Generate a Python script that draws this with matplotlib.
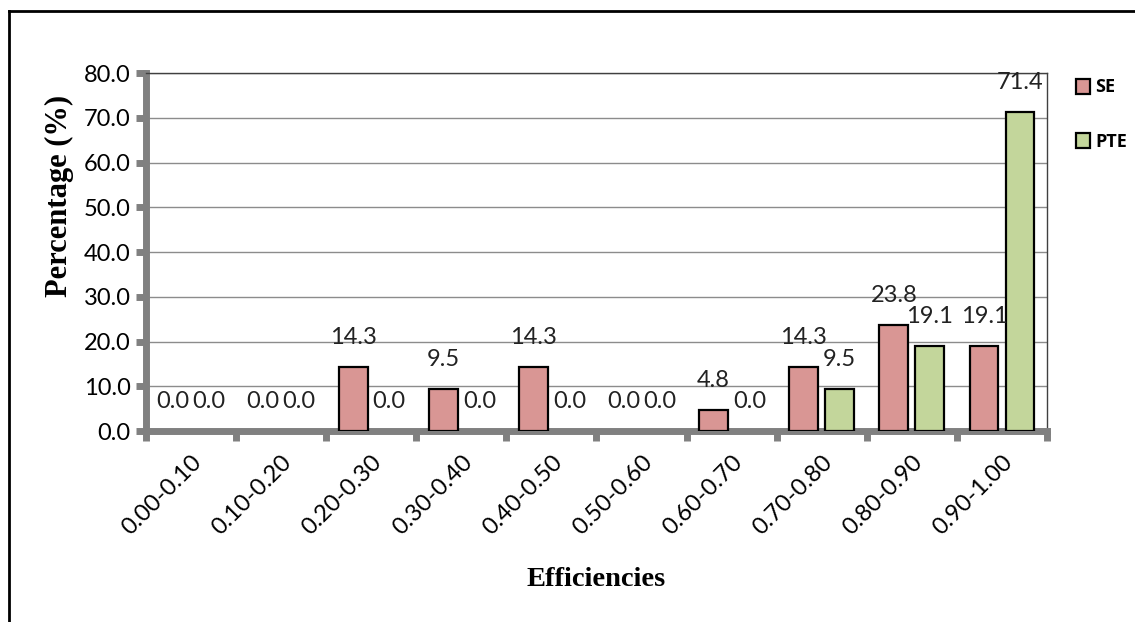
import matplotlib.pyplot as plt
import numpy as np
from matplotlib.lines import Line2D
from matplotlib.patches import Patch

# ── Data ─────────────────────────────────────────────────────────────────────

categories = ["0.00-0.10", "0.10-0.20", "0.20-0.30", "0.30-0.40", "0.40-0.50",
              "0.50-0.60", "0.60-0.70", "0.70-0.80", "0.80-0.90", "0.90-1.00"]
se_values = [0.0, 0.0, 14.3, 9.5, 14.3, 0.0, 4.8, 14.3, 23.8, 19.1]
pte_values = [0.0, 0.0, 0.0, 0.0, 0.0, 0.0, 0.0, 9.5, 19.1, 71.4]
y_ticks = [0, 10, 20, 30, 40, 50, 60, 70, 80]

SE_COLOR = "#D99694"
PTE_COLOR = "#C3D69B"
AXIS_GREY = "#808080"
SANS = "Lato"
SERIF = "Liberation Serif"

# ── Figure ───────────────────────────────────────────────────────────────────

fig = plt.figure(figsize=(11.35, 6.22), dpi=100)
ax = fig.add_axes([0.1286, 0.307, 0.7939, 0.5756])

x = np.arange(len(categories))
width = 0.32
offset = 0.2

# zero-height bars get no outline so they stay invisible
for xs, vals, color in [(x - offset, se_values, SE_COLOR),
                        (x + offset, pte_values, PTE_COLOR)]:
    lws = [1.6 if v > 0 else 0 for v in vals]
    ax.bar(xs, vals, width, color=color, edgecolor="black", linewidth=lws, zorder=3)
    for xi, v in zip(xs, vals):
        ax.annotate(f"{v:.1f}", (xi, v), xytext=(0, 21), textcoords="offset points",
                    ha="center", va="center", fontsize=17, family=SANS,
                    color="#222222", zorder=4)

ax.set_xlim(-0.5, len(categories) - 0.5)
ax.set_ylim(0, 80)
ax.set_yticks(y_ticks)
ax.set_yticklabels([f"{t:.1f}" for t in y_ticks], family=SANS, fontsize=17)

ax.set_xticks(x)
ax.set_xticklabels(categories, rotation=45, ha="right", va="top",
                   rotation_mode="anchor", family=SANS, fontsize=17)
ax.tick_params(axis="x", which="major", length=0, pad=15)
ax.set_xticks(np.arange(-0.5, len(categories)), minor=True)
ax.tick_params(axis="x", which="minor", length=7, width=5, color=AXIS_GREY)
ax.tick_params(axis="y", length=7, width=5, color=AXIS_GREY, pad=4)

ax.yaxis.grid(True, color="#8c8c8c", linewidth=1, zorder=0)
ax.set_axisbelow(True)

for side in ["left", "bottom"]:
    ax.spines[side].set_color(AXIS_GREY)
    ax.spines[side].set_linewidth(5)
for side in ["top", "right"]:
    ax.spines[side].set_color("#404040")
    ax.spines[side].set_linewidth(1)

ax.set_ylabel("Percentage (%)", family=SERIF, fontweight="bold", fontsize=22)
ax.yaxis.set_label_coords(-0.08, 0.656)
ax.set_xlabel("Efficiencies", family=SERIF, fontweight="bold", fontsize=20.5)
ax.xaxis.set_label_coords(0.5, -0.38)

handles = [Patch(facecolor=SE_COLOR, edgecolor="black", linewidth=1.6, label="SE"),
           Patch(facecolor=PTE_COLOR, edgecolor="black", linewidth=1.6, label="PTE")]
fig.legend(handles=handles, loc="upper left", bbox_to_anchor=(0.934, 0.9),
           frameon=False, handlelength=0.75, handleheight=0.9, handletextpad=0.3,
           labelspacing=2.0, prop={"family": "Open Sans", "weight": "bold", "size": 13})

# frame lines along the top and left edges
fig.add_artist(Line2D([0.0075, 0.0075], [0, 0.982], color="black", linewidth=2,
                      transform=fig.transFigure))
fig.add_artist(Line2D([0.0075, 1.0], [0.982, 0.982], color="black", linewidth=2,
                      transform=fig.transFigure))

fig.savefig("out.png", dpi=100)
